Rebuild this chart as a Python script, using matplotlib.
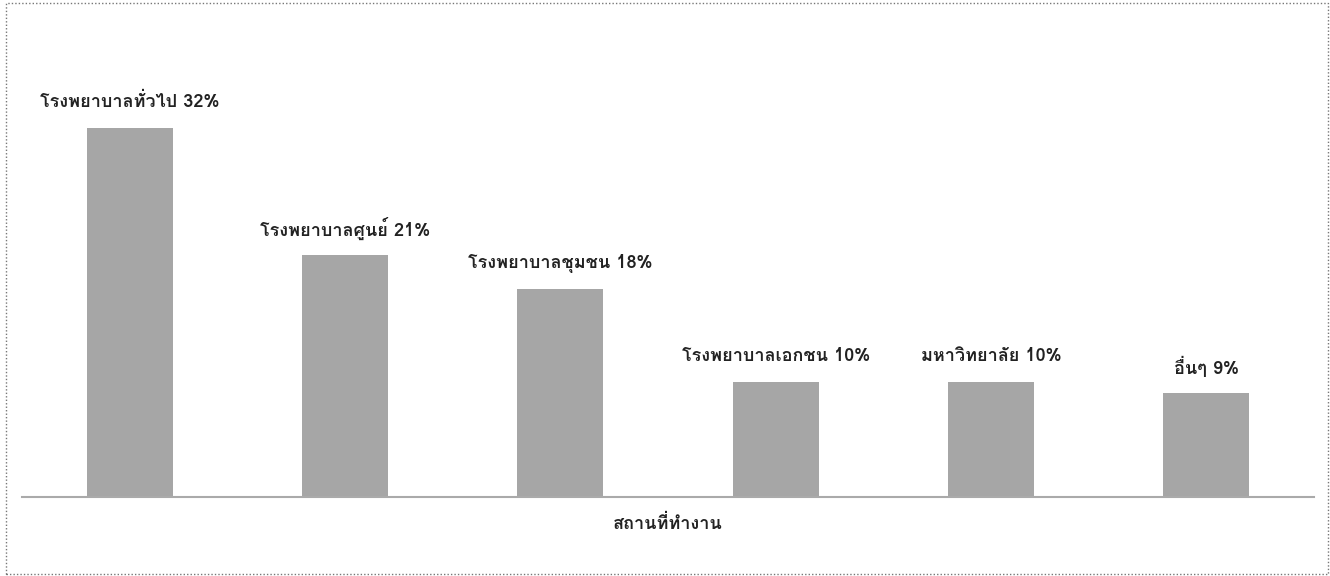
import matplotlib
matplotlib.use("Agg")
import matplotlib.pyplot as plt
from matplotlib import font_manager
from matplotlib.ft2font import FT2Font
from matplotlib.patches import Rectangle

# data
categories = ["โรงพยาบาลทั่วไป", "โรงพยาบาลศูนย์", "โรงพยาบาลชุมชน",
              "โรงพยาบาลเอกชน", "มหาวิทยาลัย", "อื่นๆ"]
values = [32, 21, 18, 10, 10, 9]
xlabel = "สถานที่ทำงาน"


def thai_family():
    # look for an installed font that actually has Thai glyphs
    for f in font_manager.fontManager.ttflist:
        try:
            if 0x0E01 in FT2Font(f.fname).get_charmap():
                return f.name
        except Exception:
            pass
    return None


fam = thai_family()
families = [fam, "DejaVu Sans"] if fam else ["DejaVu Sans"]
plt.rcParams["font.family"] = families

fig = plt.figure(figsize=(13.3, 5.76), dpi=100)
ax = fig.add_axes([22 / 1330, 1 - 497 / 576, 1292 / 1330, 404 / 576])

x = list(range(len(values)))
ax.bar(x, values, width=0.4, color="#a6a6a6", zorder=2)
ax.set_xlim(-0.5, 5.5)
ax.set_ylim(0, 35)

for i, (c, v) in enumerate(zip(categories, values)):
    ax.text(i, v + 2.25, f"{c} {v}%", ha="center", va="center",
            fontsize=13, fontweight="bold", color="#222222")

for s in ["top", "right", "left"]:
    ax.spines[s].set_visible(False)
ax.spines["bottom"].set_color("#aaaaaa")
ax.spines["bottom"].set_linewidth(1.5)
ax.set_xticks([])
ax.set_yticks([])

fig.text(668 / 1330, 1 - 524 / 576, xlabel, ha="center", va="center",
         fontsize=13, fontweight="bold", color="#222222")

# dotted border round the whole picture
fig.patches.append(Rectangle((6 / 1330, 2 / 576), 1322 / 1330, 571 / 576,
                             transform=fig.transFigure, fill=False,
                             edgecolor="#777777", linestyle=(0, (1, 1.5)),
                             linewidth=1))

fig.savefig("out.png", dpi=100)
